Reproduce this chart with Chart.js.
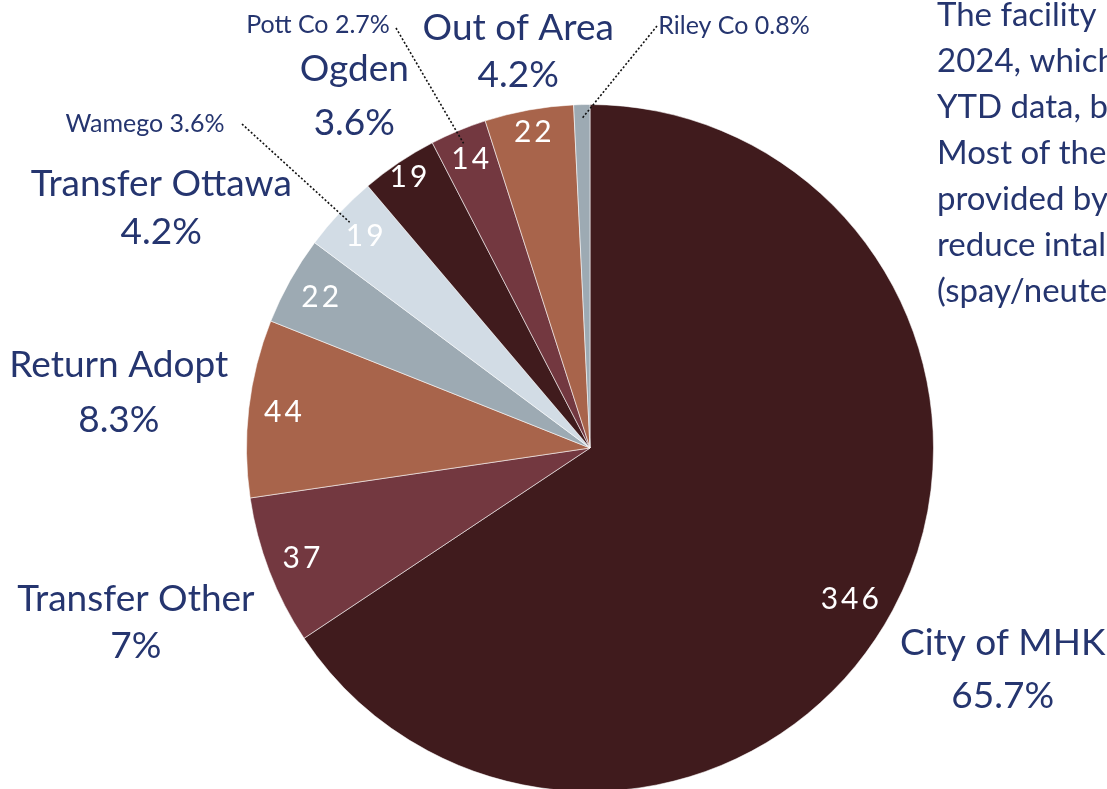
<!DOCTYPE html>
<html>
<head>
<meta charset="utf-8">
<script src="https://cdn.jsdelivr.net/npm/chart.js@4.4.0/dist/chart.umd.min.js"></script>
<style>
  html, body { margin: 0; padding: 0; background: #fff; overflow: hidden; }
  #wrap { position: relative; width: 1107px; height: 800px; }
</style>
</head>
<body>
<div id="wrap"><canvas id="chartIntake"></canvas></div>
<script>
// intake by origin (counts)
const categories = ["City of MHK", "Transfer Other", "Return Adopt", "Transfer Ottawa", "Wamego", "Ogden", "Pott Co", "Out of Area", "Riley Co"];
const counts = [346, 37, 44, 22, 19, 19, 14, 22, 4];
const sliceColors = ["#401b1d", "#733840", "#a8644b", "#9daab3", "#d2dce5", "#401b1d", "#733840", "#a8644b", "#9daab3"];

// text box on the right (cut off by the page edge)
const noteLines = ["The facility", "2024, which", "YTD data, b", "Most of the", "provided by", "reduce intal", "(spay/neute"];

const navy = "#25356f";
const total = counts.reduce((a, b) => a + b, 0);

function pctText(v) {
  let p = (v / total * 100).toFixed(1);
  if (p.endsWith(".0")) p = p.slice(0, -2);
  return p + "%";
}

// label placement: big labels sit on the slice's mid angle at dist * radius,
// small ones get a leader line (offsets are from the pie centre)
const labelLayout = [
  { dist: 1.363, gap: 53, inner: 0.875, turn: 0.035 },
  { dist: 1.416, gap: 47, inner: 0.9 },
  { dist: 1.381, gap: 55, inner: 0.9 },
  { dist: 1.430, gap: 48, inner: 0.9 },
  { small: true, dx: -445, dy: -324, lx: -348, ly: -324, inner: 0.9 },
  { dist: 1.233, gap: 54, inner: 0.95 },
  { small: true, dx: -272, dy: -423, lx: -194, ly: -420, inner: 0.91 },
  { dist: 1.174, gap: 47, inner: 0.935 },
  { small: true, dx: 144, dy: -422, lx: 67, ly: -422, inner: 0.9 }
];

const labelPlugin = {
  id: "pieLabels",
  afterDraw(chart) {
    const ctx = chart.ctx;
    const arcs = chart.getDatasetMeta(0).data;
    ctx.save();
    ctx.textAlign = "center";
    ctx.textBaseline = "middle";

    arcs.forEach((arc, i) => {
      const { x, y, startAngle, endAngle, outerRadius } = arc.getProps(["x", "y", "startAngle", "endAngle", "outerRadius"], true);
      const mid = (startAngle + endAngle) / 2;
      const value = counts[i];
      const lay = labelLayout[i];

      // value inside the slice
      if (value / total >= 0.01) {
        ctx.fillStyle = "#ffffff";
        ctx.font = "30px Lato";
        ctx.letterSpacing = "3px";
        const r = outerRadius * lay.inner;
        const a = mid + (lay.turn || 0);
        ctx.fillText(String(value), x + Math.cos(a) * r + 1.5, y + Math.sin(a) * r);
        ctx.letterSpacing = "0px";
      }

      ctx.fillStyle = navy;
      if (lay.small) {
        ctx.font = "25px Lato";
        ctx.fillText(categories[i] + " " + pctText(value), x + lay.dx, y + lay.dy);
        // dotted leader to the slice edge
        ctx.strokeStyle = "#111";
        ctx.lineWidth = 1.6;
        ctx.setLineDash([2, 2]);
        ctx.beginPath();
        ctx.moveTo(x + lay.lx, y + lay.ly);
        const r2 = outerRadius * 0.96;
        ctx.lineTo(x + Math.cos(mid) * r2, y + Math.sin(mid) * r2);
        ctx.stroke();
        ctx.setLineDash([]);
      } else {
        ctx.font = "37px Lato";
        const d = outerRadius * lay.dist;
        const cx = x + Math.cos(mid) * d;
        const cy = y + Math.sin(mid) * d;
        ctx.fillText(categories[i], cx, cy - lay.gap / 2);
        ctx.fillText(pctText(value), cx, cy + lay.gap / 2);
      }
    });

    // side note
    ctx.textAlign = "left";
    ctx.textBaseline = "alphabetic";
    ctx.font = "33px Lato";
    ctx.fillStyle = navy;
    noteLines.forEach((line, k) => {
      ctx.fillText(line, 937, 26 + k * 46);
    });
    ctx.restore();
  }
};

const ctxIntake = document.getElementById("chartIntake").getContext("2d");
new Chart(ctxIntake, {
  type: "pie",
  data: {
    labels: categories,
    datasets: [{
      data: counts,
      backgroundColor: sliceColors,
      borderColor: "rgba(255, 255, 255, 0.55)",
      borderWidth: 1
    }]
  },
  options: {
    responsive: true,
    maintainAspectRatio: false,
    animation: false,
    layout: { padding: { top: 104, bottom: 8, left: 246, right: 173 } },
    plugins: {
      legend: { display: false },
      tooltip: { enabled: false }
    }
  },
  plugins: [labelPlugin]
});
</script>
</body>
</html>
